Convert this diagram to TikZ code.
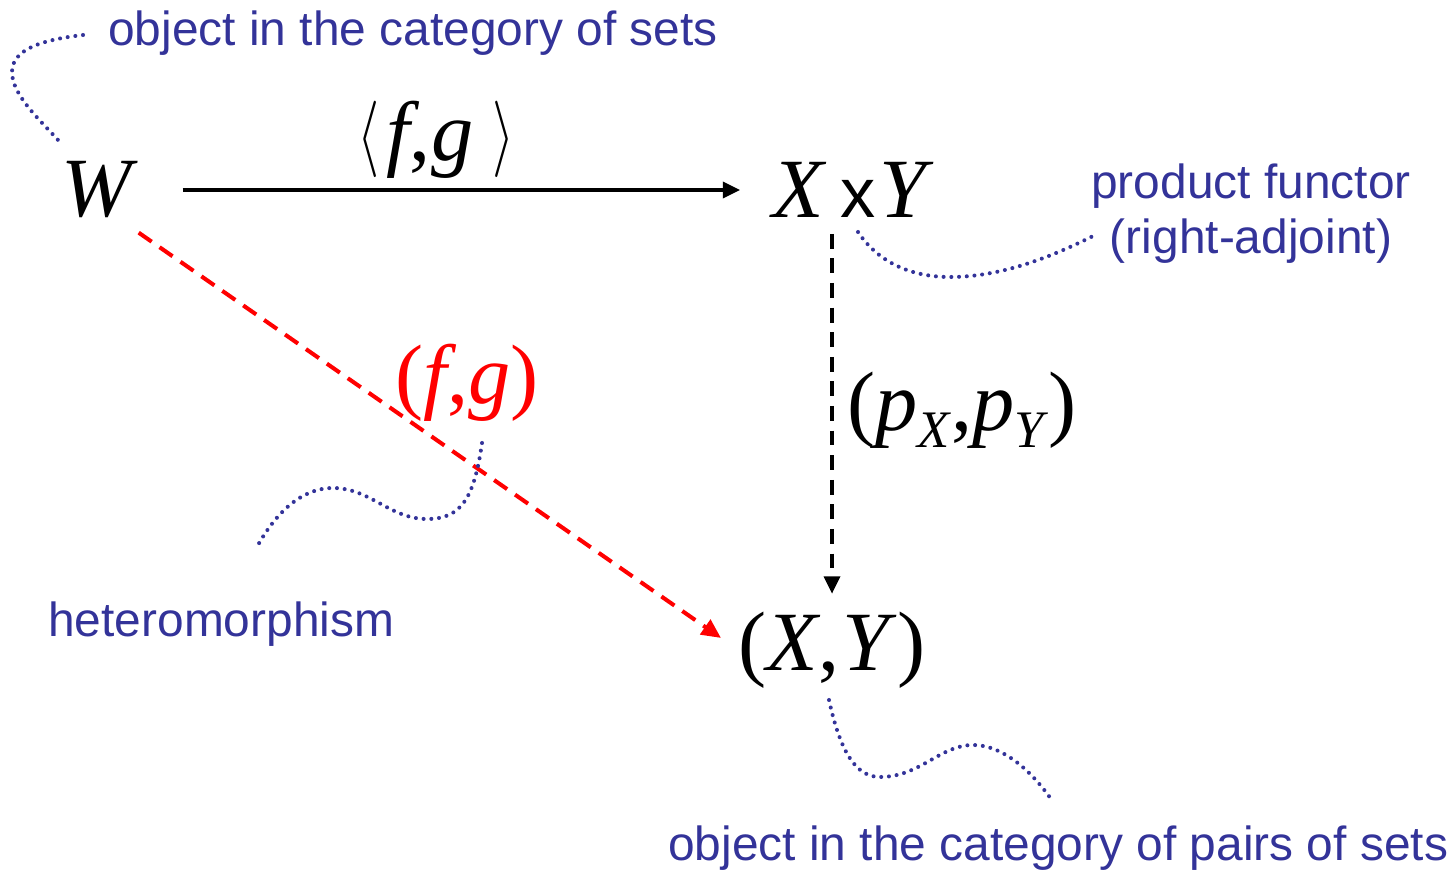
\documentclass[tikz,border=0pt]{standalone}
\usepackage{fontspec}
\usepackage{graphicx}
\setmainfont{Liberation Serif}
\newfontfamily\labfont{Liberation Sans}
\usetikzlibrary{arrows.meta}
\definecolor{annblue}{HTML}{333399}
\definecolor{hred}{HTML}{FF0000}
\newcommand\lowsub[1]{\raisebox{-10pt}{\fontsize{30}{30}\selectfont\textit{#1}}}
\newcommand\bigla{\raisebox{1pt}{\scalebox{1.3}[1.75]{$\langle$}}}
\newcommand\bigra{\raisebox{1pt}{\scalebox{1.3}[1.75]{$\rangle$}}}
\tikzset{
  mathtxt/.style={inner sep=0pt, font=\fontsize{48}{50}\selectfont},
  labtxt/.style={inner sep=0pt, text=annblue, font=\labfont\fontsize{27.25}{30}\selectfont},
  solidarr/.style={line width=2.3pt, -{Triangle[length=10pt,width=9pt]}},
  blackdash/.style={line width=2.2pt, dash pattern=on 8.5pt off 5.5pt, -{Triangle[length=10pt,width=9pt]}},
  reddash/.style={line width=2.3pt, hred, dash pattern=on 9pt off 5.5pt, -{Triangle[length=11pt,width=10pt]}},
  dotline/.style={annblue, line width=2.3pt, line cap=round, dash pattern=on 0pt off 4.4pt},
}
\begin{document}
\begin{tikzpicture}[x=0.02cm,y=-0.02cm]
\useasboundingbox (0,0) rectangle (1451,872);
% objects
\node[mathtxt] (W) at (100,190) {\textit{W}};
\node[mathtxt] (XY) at (853,190) {\textit{X}\hspace{8pt}{\labfont\fontsize{40}{40}\selectfont x}\hspace{2pt}\textit{Y}};
\node[mathtxt] (XYp) at (832,650) {(\textit{X},\hspace{2pt}\textit{Y})};
% arrow labels
\node[mathtxt, anchor=base] (fgpair) at (436,160) {\bigla\hspace{4pt}\textit{f},\textit{g}\hspace{11pt}\bigra};
\node[mathtxt, text=hred] (hfg) at (467,383) {(\textit{f},\textit{g})};
\node[mathtxt] (pp) at (962,410) {(\textit{p}\lowsub{X},\textit{p}\lowsub{Y})};
% annotation texts
\node[labtxt, anchor=base west] (t1) at (108,45) {object in the category of sets};
\node[labtxt, anchor=base] (t2) at (1251,198) {product functor};
\node[labtxt, anchor=base] (t3) at (1251,253) {(right-adjoint)};
\node[labtxt, anchor=base west] (t4) at (48,636) {heteromorphism};
\node[labtxt, anchor=base west] (t5) at (668,860) {object in the category of pairs of sets};
% connectors
\draw[solidarr, shorten <=25pt, shorten >=18pt] (W.east) -- (XY.west);
\draw[blackdash, shorten <=9pt, shorten >=10pt] (XY.south -| XYp.north) -- (XYp.north);
\draw[reddash, shorten >=12pt] ([yshift=-8pt]W.south east) -- (XYp.west);
% dotted annotation curves
\draw[dotline] (83,35) .. controls (40,40) and (12,50) .. (12,72)
               .. controls (12,95) and (40,120) .. (58,140);
\draw[dotline] (858,232) .. controls (880,265) and (915,277) .. (950,277)
               .. controls (1000,277) and (1050,258) .. (1097,234);
\draw[dotline] (482,443) .. controls (474,500) and (460,519) .. (427,519)
               .. controls (390,519) and (370,488) .. (333,488)
               .. controls (300,488) and (275,515) .. (258,545);
\draw[dotline] (829,700) .. controls (840,750) and (855,777) .. (880,777)
               .. controls (920,777) and (940,745) .. (973,745)
               .. controls (1005,745) and (1035,775) .. (1053,802);
\end{tikzpicture}
\end{document}
